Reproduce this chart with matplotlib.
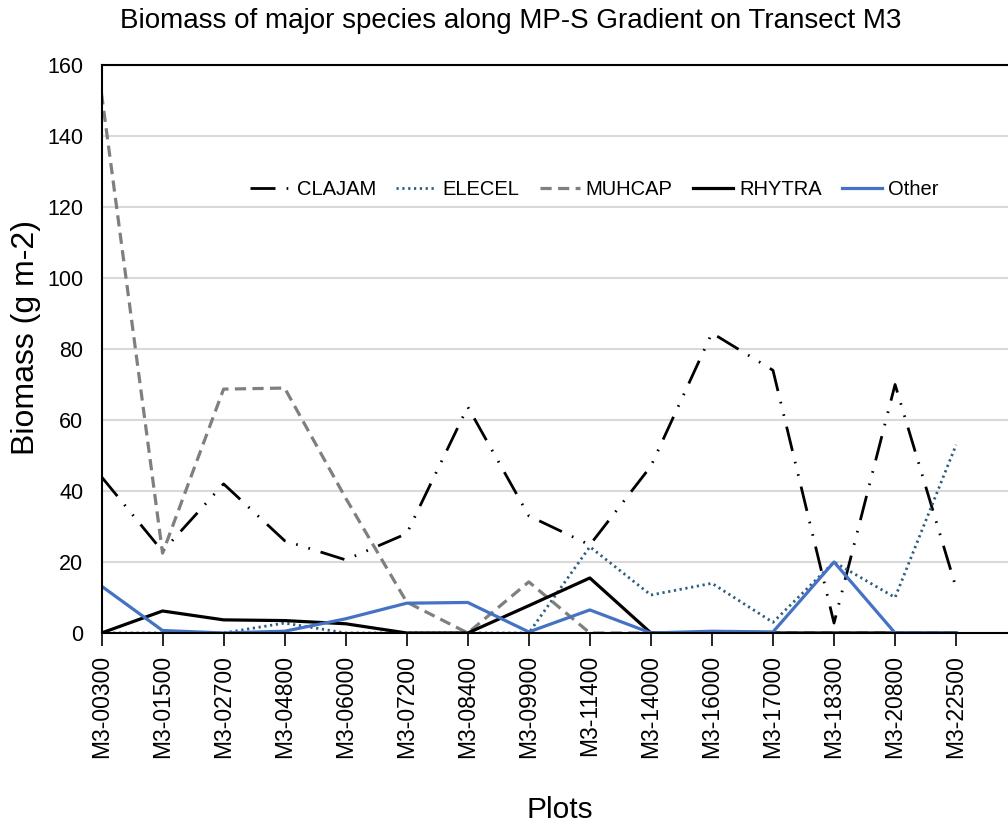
import matplotlib
matplotlib.use("Agg")
import matplotlib.pyplot as plt
from matplotlib import font_manager

plots = ["M3-00300", "M3-01500", "M3-02700", "M3-04800", "M3-06000", "M3-07200",
         "M3-08400", "M3-09900", "M3-11400", "M3-14000", "M3-16000", "M3-17000",
         "M3-18300", "M3-20800", "M3-22500"]
clajam = [44, 23, 42, 26, 20.6, 28, 63.7, 33, 24.8, 47, 84.5, 74, 2.8, 70, 12.7]
elecel = [0, 0, 0, 2.8, 0, 0, 0, 0, 24.3, 10.7, 14, 3, 20, 10, 53]
muhcap = [152, 22.5, 68.7, 69, 38, 8.7, 0, 14.4, 0, 0, 0, 0, 0, 0, 0]
rhytra = [0, 6.2, 3.7, 3.5, 2.6, 0, 0, 7.7, 15.5, 0, 0, 0, 0, 0, 0]
other = [13.2, 0.7, 0, 0.5, 4, 8.4, 8.6, 0.3, 6.5, 0, 0.5, 0.3, 20, 0, 0]
yticks = [0, 20, 40, 60, 80, 100, 120, 140, 160]

names = {f.name for f in font_manager.fontManager.ttflist}
fam = "Liberation Sans" if "Liberation Sans" in names else "DejaVu Sans"
plt.rcParams["font.family"] = [fam, "DejaVu Sans"]

fig = plt.figure(figsize=(10.08, 8.24), dpi=100)
ax = fig.add_axes([101.5/1008, 1-633/824, 1-101.5/1008, (633-65)/824])

x = list(range(len(plots)))
ax.plot(x, clajam, color="black", lw=2.0, dashes=(9, 4, 0.6, 4, 0.6, 4), label="CLAJAM")
ax.plot(x, elecel, color="#2E5E7E", lw=2.0, dashes=(0.8, 1.3), label="ELECEL")
ax.plot(x, muhcap, color="#7F7F7F", lw=2.3, dashes=(3.5, 2), label="MUHCAP")
ax.plot(x, rhytra, color="black", lw=2.3, label="RHYTRA")
ax.plot(x, other, color="#4472C4", lw=2.3, label="Other")

ax.set_xlim(0, 14.85)
ax.set_ylim(0, 160)
ax.set_yticks(yticks)
ax.set_yticklabels([str(v) for v in yticks], fontsize=15.5)
ax.set_xticks(x)
ax.set_xticklabels(plots, rotation=90, fontsize=16.5)
ax.tick_params(axis="y", length=0, pad=13)
ax.tick_params(axis="x", length=9, width=1.2, direction="out", pad=7)
ax.grid(axis="y", color="#D9D9D9", lw=1.5)
ax.set_axisbelow(True)
for s in ["left", "top", "bottom"]:
    ax.spines[s].set_color("black")
    ax.spines[s].set_linewidth(1.5)
ax.spines["right"].set_visible(False)

leg = ax.legend(loc="center", bbox_to_anchor=(0.544, 0.78), ncol=5, frameon=False,
                fontsize=14.5, handlelength=2.0, handletextpad=0.3, columnspacing=1.0)

fig.text(511/1008, 1-28/824, "Biomass of major species along MP-S Gradient on Transect M3",
         ha="center", va="baseline", fontsize=20)
fig.text(26/1008, 1-338/824, "Biomass (g m-2)", rotation=90, ha="center", va="center", fontsize=23)
fig.text(560/1008, 1-818/824, "Plots", ha="center", va="baseline", fontsize=21.5)

fig.savefig("out.png", dpi=100)
